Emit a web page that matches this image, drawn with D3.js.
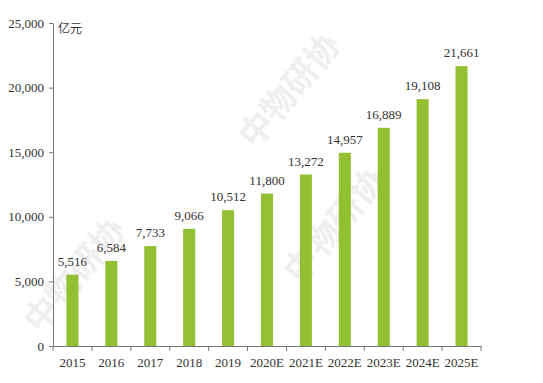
<!DOCTYPE html>
<html><head><meta charset="utf-8">
<script src="https://cdn.jsdelivr.net/npm/d3@7"></script>
<style>body{margin:0;background:#fff}svg{display:block}</style>
</head><body>
<svg id="c" width="543" height="383"></svg>
<script>
const categories = ["2015","2016","2017","2018","2019","2020E","2021E","2022E","2023E","2024E","2025E"];
const values = [5516,6584,7733,9066,10512,11800,13272,14957,16889,19108,21661];
const yTicks = [0,5000,10000,15000,20000,25000];
const unitLabel = "亿元";

const svg = d3.select("#c");
const font = "'Liberation Serif','DejaVu Serif',serif";
const m = {left:53, right:62, top:23, bottom:37};
const W = 543, H = 383;

// watermarks
const wm = svg.append("g").attr("fill","#efefef").attr("font-family","'Noto Sans CJK SC',sans-serif").attr("font-weight","bold");
[[40,335,-50,"中物研协"],[300,285,-50,"中物研协"],[255,150,-50,"中物研协"]].forEach(d=>{
  wm.append("text").attr("transform",`translate(${d[0]},${d[1]}) rotate(${d[2]})`).attr("font-size",34).text(d[3]);
});

const x = d3.scaleBand().domain(categories).range([m.left, W-m.right]).paddingInner(0.69).paddingOuter(0.345);
const y = d3.scaleLinear().domain([0,25000]).range([H-m.bottom, m.top]);

svg.append("g").selectAll("rect").data(values).join("rect")
  .attr("x",(d,i)=>x(categories[i])).attr("width",x.bandwidth())
  .attr("y",d=>y(d)).attr("height",d=>y(0)-y(d)).attr("fill","#93c032");

const fmt = d3.format(",");
svg.append("g").selectAll("text").data(values).join("text")
  .attr("x",(d,i)=>x(categories[i])+x.bandwidth()/2).attr("y",d=>y(d)-9)
  .attr("text-anchor","middle").attr("font-family",font).attr("font-size",13).attr("fill","#333")
  .text(d=>fmt(d));

const xb = d3.scaleBand().domain(categories).range([m.left, W-m.right]);
const xAxis = svg.append("g").attr("transform",`translate(0,${H-m.bottom})`)
  .call(d3.axisBottom(xb).tickSize(0).tickPadding(12));
xAxis.selectAll("text").attr("font-family",font).attr("font-size",13).attr("fill","#333");
xAxis.select(".domain").attr("stroke","#777");
xAxis.selectAll("line.b").data(d3.range(categories.length+1)).join("line").attr("class","b")
  .attr("x1",i=>m.left+i*xb.step()).attr("x2",i=>m.left+i*xb.step()).attr("y1",0).attr("y2",5).attr("stroke","#777");

const yAxis = svg.append("g").attr("transform",`translate(${m.left},0)`)
  .call(d3.axisLeft(y).tickValues(yTicks).tickFormat(fmt).tickSize(4).tickPadding(5).tickSizeOuter(0));
yAxis.selectAll("text").attr("font-family",font).attr("font-size",13).attr("fill","#333");
yAxis.selectAll("line").attr("stroke","#777");
yAxis.select(".domain").attr("stroke","#777");

svg.append("text").attr("x",m.left+5).attr("y",m.top+10).attr("font-family","'Noto Sans CJK SC',sans-serif")
  .attr("font-size",12).attr("fill","#333").text(unitLabel);
</script>
</body></html>
